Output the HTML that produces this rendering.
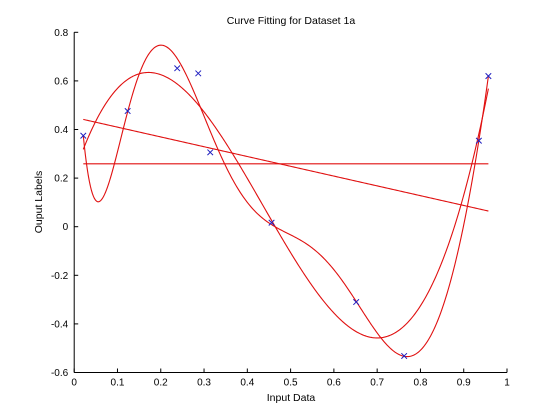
<!DOCTYPE html>
<html><head><meta charset="utf-8">
<style>
html,body{margin:0;padding:0;background:#fff;}
svg{display:block;font-family:"Liberation Sans",Arial,sans-serif;}
</style></head>
<body>
<svg id="chart" width="560" height="420" viewBox="0 0 560 420">
<rect width="560" height="420" fill="#fff"/>
<text x="291" y="24" font-size="10.5" text-anchor="middle">Curve Fitting for Dataset 1a</text>
<text x="291" y="401" font-size="10.5" text-anchor="middle">Input Data</text>
<text transform="translate(42,202) rotate(-90)" font-size="10.5" text-anchor="middle">Ouput Labels</text>
<g id="axes"></g>
<g id="curves"></g>
<g id="points"></g>
</svg>
<script>
const xData = [0.021, 0.1235, 0.238, 0.2866, 0.3143, 0.456, 0.6515, 0.7624, 0.935, 0.957];
const yData = [0.3745, 0.476, 0.652, 0.631, 0.306, 0.0165, -0.31, -0.532, 0.354, 0.620];
const fitDegrees = [0, 1, 3, 8];
const xTicks = [0, 0.1, 0.2, 0.3, 0.4, 0.5, 0.6, 0.7, 0.8, 0.9, 1];
const xTickLabels = ["0", "0.1", "0.2", "0.3", "0.4", "0.5", "0.6", "0.7", "0.8", "0.9", "1"];
const yTicks = [-0.6, -0.4, -0.2, 0, 0.2, 0.4, 0.6, 0.8];
const yTickLabels = ["-0.6", "-0.4", "-0.2", "0", "0.2", "0.4", "0.6", "0.8"];

const NS = "http://www.w3.org/2000/svg";
const X0 = 74.2, X1 = 507, Y0 = 372.5, Y1 = 32.3;
const xMin = 0, xMax = 1, yMin = -0.6, yMax = 0.8;
function sx(v){ return X0 + (v - xMin) / (xMax - xMin) * (X1 - X0); }
function sy(v){ return Y0 - (v - yMin) / (yMax - yMin) * (Y0 - Y1); }
function mk(tag, attrs, parent){
  const e = document.createElementNS(NS, tag);
  for (const k in attrs) e.setAttribute(k, attrs[k]);
  parent.appendChild(e); return e;
}

const axes = document.getElementById('axes');
const xAxis = mk('line', {x1:X0, y1:Y0, x2:X1, y2:Y0, stroke:'#000', 'stroke-width':1}, axes);


const yAxis = mk('line', {x1:X0, y1:Y0, x2:X0, y2:Y1, stroke:'#000', 'stroke-width':1}, axes);


xTicks.forEach((t, i) => {
  const tk = mk('line', {x1:sx(t), y1:Y0, x2:sx(t), y2:Y0-4, stroke:'#000'}, axes);
  
  
  const lb = mk('text', {x:sx(t), y:Y0+13, 'font-size':10, 'text-anchor':'middle'}, axes);
  lb.textContent = xTickLabels[i];
  
  
});
yTicks.forEach((t, i) => {
  const tk = mk('line', {x1:X0, y1:sy(t), x2:X0+4, y2:sy(t), stroke:'#000'}, axes);
  
  
  const lb = mk('text', {x:X0-6, y:sy(t)+3.5, 'font-size':10, 'text-anchor':'end'}, axes);
  lb.textContent = yTickLabels[i];
  
  
});

// least-squares polynomial fit via Householder QR (stable)
function polyfit(xs, ys, deg){
  const m = xs.length, n = deg + 1;
  const A = xs.map(x => { const r = []; for (let j = 0; j < n; j++) r.push(Math.pow(x, j)); return r; });
  const b = ys.slice();
  for (let k = 0; k < n; k++){
    let norm = 0; for (let i = k; i < m; i++) norm += A[i][k] * A[i][k];
    norm = Math.sqrt(norm);
    const alpha = A[k][k] > 0 ? -norm : norm;
    const v = new Array(m).fill(0);
    for (let i = k; i < m; i++) v[i] = A[i][k];
    v[k] -= alpha;
    let vv = 0; for (let i = k; i < m; i++) vv += v[i] * v[i];
    if (vv === 0) continue;
    for (let j = k; j < n; j++){
      let s = 0; for (let i = k; i < m; i++) s += v[i] * A[i][j];
      s = 2 * s / vv;
      for (let i = k; i < m; i++) A[i][j] -= s * v[i];
    }
    let s = 0; for (let i = k; i < m; i++) s += v[i] * b[i];
    s = 2 * s / vv;
    for (let i = k; i < m; i++) b[i] -= s * v[i];
  }
  const c = new Array(n).fill(0);
  for (let i = n - 1; i >= 0; i--){
    let s = b[i];
    for (let j = i + 1; j < n; j++) s -= A[i][j] * c[j];
    c[i] = s / A[i][i];
  }
  return c;
}
function polyval(c, x){ let s = 0; for (let i = c.length - 1; i >= 0; i--) s = s * x + c[i]; return s; }

const curves = document.getElementById('curves');
const lo = Math.min(...xData), hi = Math.max(...xData);
fitDegrees.forEach(d => {
  const coef = polyfit(xData, yData, d);
  let dstr = '';
  const N = 400;
  for (let i = 0; i <= N; i++){
    const x = lo + (hi - lo) * i / N;
    dstr += (i ? 'L' : 'M') + sx(x).toFixed(2) + ',' + sy(polyval(coef, x)).toFixed(2);
  }
  const p = mk('path', {d:dstr, fill:'none', stroke:'#e01010', 'stroke-width':1.1}, curves);
  
  
});

const pts = document.getElementById('points');
xData.forEach((x, i) => {
  const cx = sx(x), cy = sy(yData[i]), r = 2.8;
  const g = mk('path', {d:`M${cx-r},${cy-r}L${cx+r},${cy+r}M${cx-r},${cy+r}L${cx+r},${cy-r}`, stroke:'#2020c0', 'stroke-width':1, fill:'none'}, pts);
  
  
});
</script>
</body></html>
